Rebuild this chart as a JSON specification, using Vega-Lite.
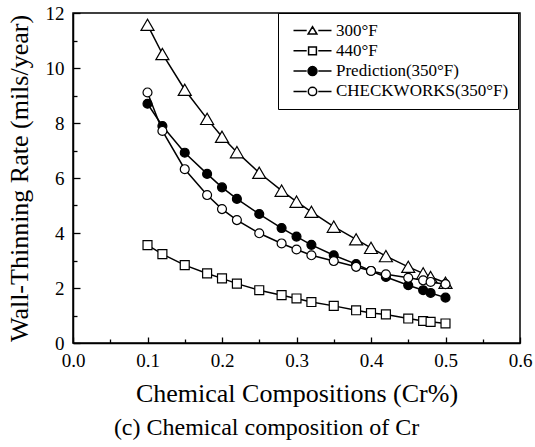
{
  "$schema": "https://vega.github.io/schema/vega-lite/v6.json",
  "autosize": {"type": "none"},
  "width": 447,
  "height": 330,
  "padding": {"left": 73, "top": 13, "right": 15, "bottom": 104},
  "background": "white",
  "config": {
    "view": {"stroke": "black", "strokeWidth": 1.5},
    "font": "Liberation Serif",
    "axis": {"grid": false, "domainColor": "black", "domainWidth": 1.5, "tickColor": "black", "tickWidth": 1.3, "labelColor": "black", "titleColor": "black", "labelFont": "Liberation Serif", "titleFont": "Liberation Serif", "titleFontWeight": "normal"}
  },
  "title": {"text": "(c) Chemical composition of Cr", "orient": "bottom", "anchor": "middle", "dx": -30, "offset": 10, "font": "Liberation Serif", "fontSize": 24, "fontWeight": "normal", "color": "black"},
  "data": {"values": [
    {"x": 0.1, "y": 11.57, "series": "300°F"},
    {"x": 0.12, "y": 10.51, "series": "300°F"},
    {"x": 0.15, "y": 9.21, "series": "300°F"},
    {"x": 0.18, "y": 8.15, "series": "300°F"},
    {"x": 0.2, "y": 7.5, "series": "300°F"},
    {"x": 0.22, "y": 6.94, "series": "300°F"},
    {"x": 0.25, "y": 6.19, "series": "300°F"},
    {"x": 0.28, "y": 5.54, "series": "300°F"},
    {"x": 0.3, "y": 5.14, "series": "300°F"},
    {"x": 0.32, "y": 4.77, "series": "300°F"},
    {"x": 0.35, "y": 4.23, "series": "300°F"},
    {"x": 0.38, "y": 3.77, "series": "300°F"},
    {"x": 0.4, "y": 3.46, "series": "300°F"},
    {"x": 0.42, "y": 3.16, "series": "300°F"},
    {"x": 0.45, "y": 2.77, "series": "300°F"},
    {"x": 0.47, "y": 2.53, "series": "300°F"},
    {"x": 0.48, "y": 2.4, "series": "300°F"},
    {"x": 0.5, "y": 2.19, "series": "300°F"},
    {"x": 0.1, "y": 3.56, "series": "440°F"},
    {"x": 0.12, "y": 3.23, "series": "440°F"},
    {"x": 0.15, "y": 2.83, "series": "440°F"},
    {"x": 0.18, "y": 2.53, "series": "440°F"},
    {"x": 0.2, "y": 2.35, "series": "440°F"},
    {"x": 0.22, "y": 2.16, "series": "440°F"},
    {"x": 0.25, "y": 1.92, "series": "440°F"},
    {"x": 0.28, "y": 1.74, "series": "440°F"},
    {"x": 0.3, "y": 1.62, "series": "440°F"},
    {"x": 0.32, "y": 1.49, "series": "440°F"},
    {"x": 0.35, "y": 1.35, "series": "440°F"},
    {"x": 0.38, "y": 1.19, "series": "440°F"},
    {"x": 0.4, "y": 1.09, "series": "440°F"},
    {"x": 0.42, "y": 1.04, "series": "440°F"},
    {"x": 0.45, "y": 0.89, "series": "440°F"},
    {"x": 0.47, "y": 0.8, "series": "440°F"},
    {"x": 0.48, "y": 0.77, "series": "440°F"},
    {"x": 0.5, "y": 0.71, "series": "440°F"},
    {"x": 0.1, "y": 8.7, "series": "Prediction(350°F)"},
    {"x": 0.12, "y": 7.89, "series": "Prediction(350°F)"},
    {"x": 0.15, "y": 6.92, "series": "Prediction(350°F)"},
    {"x": 0.18, "y": 6.15, "series": "Prediction(350°F)"},
    {"x": 0.2, "y": 5.66, "series": "Prediction(350°F)"},
    {"x": 0.22, "y": 5.24, "series": "Prediction(350°F)"},
    {"x": 0.25, "y": 4.69, "series": "Prediction(350°F)"},
    {"x": 0.28, "y": 4.18, "series": "Prediction(350°F)"},
    {"x": 0.3, "y": 3.87, "series": "Prediction(350°F)"},
    {"x": 0.32, "y": 3.57, "series": "Prediction(350°F)"},
    {"x": 0.35, "y": 3.19, "series": "Prediction(350°F)"},
    {"x": 0.38, "y": 2.87, "series": "Prediction(350°F)"},
    {"x": 0.4, "y": 2.62, "series": "Prediction(350°F)"},
    {"x": 0.42, "y": 2.4, "series": "Prediction(350°F)"},
    {"x": 0.45, "y": 2.1, "series": "Prediction(350°F)"},
    {"x": 0.47, "y": 1.92, "series": "Prediction(350°F)"},
    {"x": 0.48, "y": 1.82, "series": "Prediction(350°F)"},
    {"x": 0.5, "y": 1.65, "series": "Prediction(350°F)"},
    {"x": 0.1, "y": 9.11, "series": "CHECKWORKS(350°F)"},
    {"x": 0.12, "y": 7.71, "series": "CHECKWORKS(350°F)"},
    {"x": 0.15, "y": 6.32, "series": "CHECKWORKS(350°F)"},
    {"x": 0.18, "y": 5.38, "series": "CHECKWORKS(350°F)"},
    {"x": 0.2, "y": 4.87, "series": "CHECKWORKS(350°F)"},
    {"x": 0.22, "y": 4.47, "series": "CHECKWORKS(350°F)"},
    {"x": 0.25, "y": 3.99, "series": "CHECKWORKS(350°F)"},
    {"x": 0.28, "y": 3.62, "series": "CHECKWORKS(350°F)"},
    {"x": 0.3, "y": 3.4, "series": "CHECKWORKS(350°F)"},
    {"x": 0.32, "y": 3.19, "series": "CHECKWORKS(350°F)"},
    {"x": 0.35, "y": 2.98, "series": "CHECKWORKS(350°F)"},
    {"x": 0.38, "y": 2.77, "series": "CHECKWORKS(350°F)"},
    {"x": 0.4, "y": 2.62, "series": "CHECKWORKS(350°F)"},
    {"x": 0.42, "y": 2.5, "series": "CHECKWORKS(350°F)"},
    {"x": 0.45, "y": 2.37, "series": "CHECKWORKS(350°F)"},
    {"x": 0.47, "y": 2.28, "series": "CHECKWORKS(350°F)"},
    {"x": 0.48, "y": 2.22, "series": "CHECKWORKS(350°F)"},
    {"x": 0.5, "y": 2.14, "series": "CHECKWORKS(350°F)"}
  ]},
  "resolve": {"axis": {"x": "independent", "y": "independent"}},
  "layer": [
    {
      "mark": {"type": "line", "color": "black", "strokeWidth": 1.5},
      "encoding": {
        "x": {"field": "x", "type": "quantitative", "scale": {"domain": [0, 0.6], "nice": false, "zero": false},
          "axis": {"orient": "bottom", "values": [0, 0.1, 0.2, 0.3, 0.4, 0.5, 0.6], "format": ".1f", "labelFlush": false, "labelOverlap": false, "tickSize": -6, "labelPadding": 14, "labelFontSize": 19, "title": "Chemical Compositions (Cr%)", "titleFontSize": 26, "titlePadding": 10}},
        "y": {"field": "y", "type": "quantitative", "scale": {"domain": [0, 12], "nice": false, "zero": false},
          "axis": {"orient": "left", "values": [0, 2, 4, 6, 8, 10, 12], "labelFlush": false, "labelOverlap": false, "tickSize": -7, "labelPadding": 16, "labelFontSize": 19, "title": "Wall-Thinning Rate (mils/year)", "titleFontSize": 26, "titleX": -41}},
        "detail": {"field": "series"}
      }
    },
    {
      "transform": [{"filter": "datum.series === '440°F'"}],
      "mark": {"type": "point", "shape": "square", "filled": true, "fill": "white", "stroke": "black", "strokeWidth": 1.2, "opacity": 1, "size": 80},
      "encoding": {
        "x": {"field": "x", "type": "quantitative",
          "axis": {"orient": "bottom", "values": [0.05, 0.15, 0.25, 0.35, 0.45, 0.55], "labels": false, "domain": false, "title": null, "tickSize": -4}},
        "y": {"field": "y", "type": "quantitative",
          "axis": {"orient": "left", "values": [1, 3, 5, 7, 9, 11], "labels": false, "domain": false, "title": null, "tickSize": -4}}
      }
    },
    {
      "transform": [{"filter": "datum.series === '300°F'"}],
      "mark": {"type": "point", "shape": "triangle-up", "filled": true, "fill": "white", "stroke": "black", "strokeWidth": 1.2, "opacity": 1, "size": 170},
      "encoding": {
        "x": {"field": "x", "type": "quantitative", "axis": null},
        "y": {"field": "y", "type": "quantitative", "axis": null}
      }
    },
    {
      "transform": [{"filter": "datum.series === 'Prediction(350°F)'"}],
      "mark": {"type": "point", "shape": "circle", "filled": true, "fill": "black", "stroke": "black", "strokeWidth": 1.2, "opacity": 1, "size": 80},
      "encoding": {
        "x": {"field": "x", "type": "quantitative", "axis": null},
        "y": {"field": "y", "type": "quantitative", "axis": null}
      }
    },
    {
      "transform": [{"filter": "datum.series === 'CHECKWORKS(350°F)'"}],
      "mark": {"type": "point", "shape": "circle", "filled": true, "fill": "white", "stroke": "black", "strokeWidth": 1.2, "opacity": 1, "size": 80},
      "encoding": {
        "x": {"field": "x", "type": "quantitative", "axis": null},
        "y": {"field": "y", "type": "quantitative", "axis": null}
      }
    },
    {
      "transform": [{"filter": "datum.x > 1"}],
      "mark": {"type": "point", "filled": true, "stroke": "black", "strokeWidth": 1.4, "opacity": 1},
      "encoding": {
        "x": {"field": "x", "type": "quantitative", "axis": null},
        "y": {"field": "y", "type": "quantitative", "axis": null},
        "shape": {"field": "series", "type": "nominal",
          "scale": {"domain": ["300°F", "440°F", "Prediction(350°F)", "CHECKWORKS(350°F)"],
            "range": ["M-3.8,0H-1.16M1.16,0H3.8M0,-0.76L0.88,0.72L-0.88,0.72Z", "M-3.8,0H-1.16M1.16,0H3.8M-0.78,-0.78H0.78V0.78H-0.78Z", "M-3.8,0H-1.16M1.16,0H3.8M-0.9,0A0.9,0.9,0,1,0,0.9,0A0.9,0.9,0,1,0,-0.9,0Z", "M-3.8,0H-1.16M1.16,0H3.8M-0.84,0A0.84,0.84,0,1,0,0.84,0A0.84,0.84,0,1,0,-0.84,0Z"]},
          "legend": {"orient": "none", "legendX": 205, "legendY": 0, "title": null, "strokeColor": "black", "padding": 9, "rowPadding": 2.3, "symbolSize": 100, "symbolOffset": 17, "labelFont": "Liberation Serif", "labelFontSize": 17, "labelColor": "black", "labelOffset": 15, "labelLimit": 0}},
        "fill": {"field": "series", "type": "nominal",
          "scale": {"domain": ["300°F", "440°F", "Prediction(350°F)", "CHECKWORKS(350°F)"], "range": ["white", "white", "black", "white"]},
          "legend": null}
      }
    }
  ]
}
